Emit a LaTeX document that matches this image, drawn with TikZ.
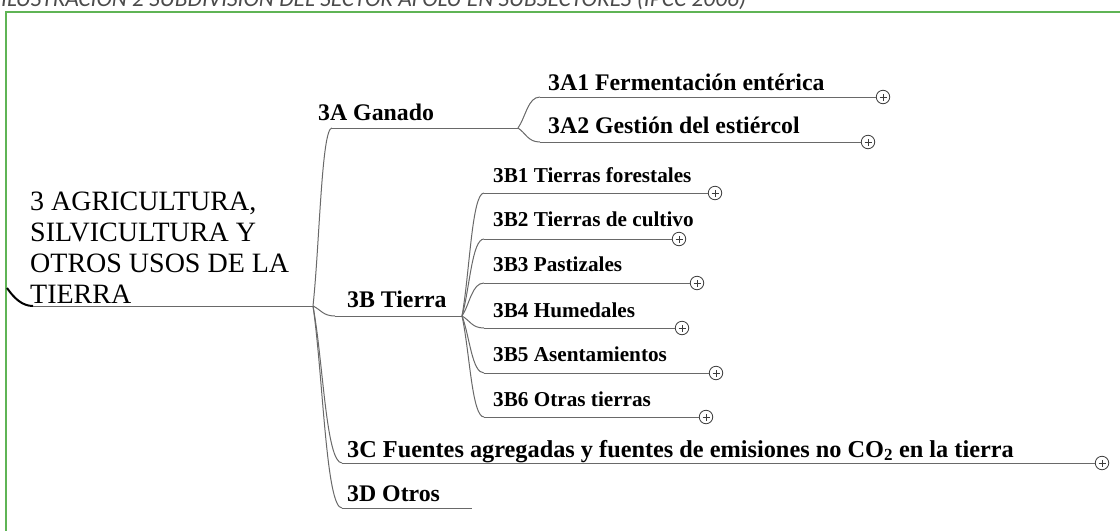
\documentclass[tikz,border=0pt]{standalone}
\usepackage{fontspec}
\usepackage{graphicx}
\setmainfont{Liberation Serif}
\newfontfamily\titlefont{Carlito}
\usetikzlibrary{calc}
\definecolor{framegreen}{RGB}{95,180,85}
\definecolor{linegray}{RGB}{105,105,105}
\definecolor{circgray}{RGB}{60,60,60}
\definecolor{titlegray}{RGB}{75,75,75}
\tikzset{
  lvlA/.style={anchor=base west, inner sep=0pt, font=\fontsize{23.8}{26}\selectfont\bfseries},
  lvlB/.style={anchor=base west, inner sep=0pt, font=\fontsize{21.2}{24}\selectfont\bfseries},
  rootstyle/.style={anchor=base west, inner sep=0pt, font=\fontsize{28}{31}\selectfont},
  branchline/.style={draw=linegray, line width=1pt},
  hookline/.style={draw=black, line width=2pt},
  framestyle/.style={draw=framegreen, line width=1.2pt},
  expander/.style={circle, draw=circgray, fill=white, line width=0.8pt, minimum size=13.5pt, inner sep=0pt,
    path picture={\draw[circgray, line width=0.6pt]
      ($(path picture bounding box.center)+(-3.5pt,0pt)$) -- ++(7pt,0pt)
      ($(path picture bounding box.center)+(0pt,-3.5pt)$) -- ++(0pt,7pt);}},
}
\newcommand\growbranch[2]{\draw[branchline] (#1) .. controls ($(#1)!0.35!(#2)$) and ($(#1 |- #2)!0.45!(#2)$) .. (#2);}
\begin{document}
\begin{tikzpicture}[x=1pt, y=-1pt]
\useasboundingbox (0,0) rectangle (1120,531);
% caption (cut at top)
\begin{scope}
\clip (0,0) rectangle (1120,531);
\node[anchor=base west, inner sep=0pt, text=titlegray] (title) at (1,6)
  {\resizebox{745pt}{!}{\titlefont\itshape ILUSTRACIÓN 2 SUBDIVISIÓN DEL SECTOR AFOLU EN SUBSECTORES (IPCC 2006)}};
\end{scope}
% frame
\draw[framestyle] (1120,12) -- (6,12) -- (6,531);

% root
\node[rootstyle] (root) at (30,210)
  {\begin{tabular}[t]{@{}l@{}}3 AGRICULTURA,\\SILVICULTURA Y\\OTROS USOS DE LA\\TIERRA\end{tabular}};
\coordinate (hookstart) at (7,288);
\coordinate (rootend) at (33,306);
\coordinate (hub) at (313,306);
\draw[hookline] (hookstart) .. controls (14,298) and (22,306) .. (rootend);
\draw[branchline] (rootend) -- (hub);

% 3A
\coordinate (aS) at (332,128);
\coordinate (aH) at (518,128);
\growbranch{hub}{aS}
\draw[branchline] (aS) -- (aH);
\node[lvlA] (a) at (318,120) {3A Ganado};

\coordinate (a1S) at (540,97);
\node[expander] (a1x) at (883,97) {};
\growbranch{aH}{a1S}
\draw[branchline] (a1S) -- (a1x.west);
\node[lvlA] (a1) at (548,90) {3A1 Fermentación entérica};

\coordinate (a2S) at (540,142);
\node[expander] (a2x) at (868,142) {};
\growbranch{aH}{a2S}
\draw[branchline] (a2S) -- (a2x.west);
\node[lvlA] (a2) at (548,133) {3A2 Gestión del estiércol};

% 3B
\coordinate (bS) at (335,316);
\coordinate (bH) at (462,316);
\growbranch{hub}{bS}
\draw[branchline] (bS) -- (bH);
\node[lvlA] (b) at (347,307) {3B Tierra};

\coordinate (b1S) at (484,193);
\node[expander] (b1x) at (715,193) {};
\growbranch{bH}{b1S}
\draw[branchline] (b1S) -- (b1x.west);
\node[lvlB] (b1) at (493,182) {3B1 Tierras forestales};

\coordinate (b2S) at (484,239);
\node[expander] (b2x) at (679,239) {};
\growbranch{bH}{b2S}
\draw[branchline] (b2S) -- (b2x.west);
\node[lvlB] (b2) at (493,226) {3B2 Tierras de cultivo};

\coordinate (b3S) at (484,283);
\node[expander] (b3x) at (697,283) {};
\growbranch{bH}{b3S}
\draw[branchline] (b3S) -- (b3x.west);
\node[lvlB] (b3) at (493,271) {3B3 Pastizales};

\coordinate (b4S) at (484,328);
\node[expander] (b4x) at (682,328) {};
\growbranch{bH}{b4S}
\draw[branchline] (b4S) -- (b4x.west);
\node[lvlB] (b4) at (493,317) {3B4 Humedales};

\coordinate (b5S) at (484,373);
\node[expander] (b5x) at (716,373) {};
\growbranch{bH}{b5S}
\draw[branchline] (b5S) -- (b5x.west);
\node[lvlB] (b5) at (493,361) {3B5 Asentamientos};

\coordinate (b6S) at (484,417);
\node[expander] (b6x) at (706,417) {};
\growbranch{bH}{b6S}
\draw[branchline] (b6S) -- (b6x.west);
\node[lvlB] (b6) at (493,406) {3B6 Otras tierras};

% 3C
\coordinate (cS) at (342,463);
\node[expander] (cx) at (1102,463) {};
\growbranch{hub}{cS}
\draw[branchline] (cS) -- (cx.west);
\node[lvlA, font=\fontsize{24.3}{27}\selectfont\bfseries] (c) at (347,457)
  {3C Fuentes agregadas y fuentes de emisiones no CO\textsubscript{2} en la tierra};

% 3D
\coordinate (dS) at (342,508);
\coordinate (dE) at (472,508);
\growbranch{hub}{dS}
\draw[branchline] (dS) -- (dE);
\node[lvlA] (d) at (347,501) {3D Otros};
\end{tikzpicture}
\end{document}
